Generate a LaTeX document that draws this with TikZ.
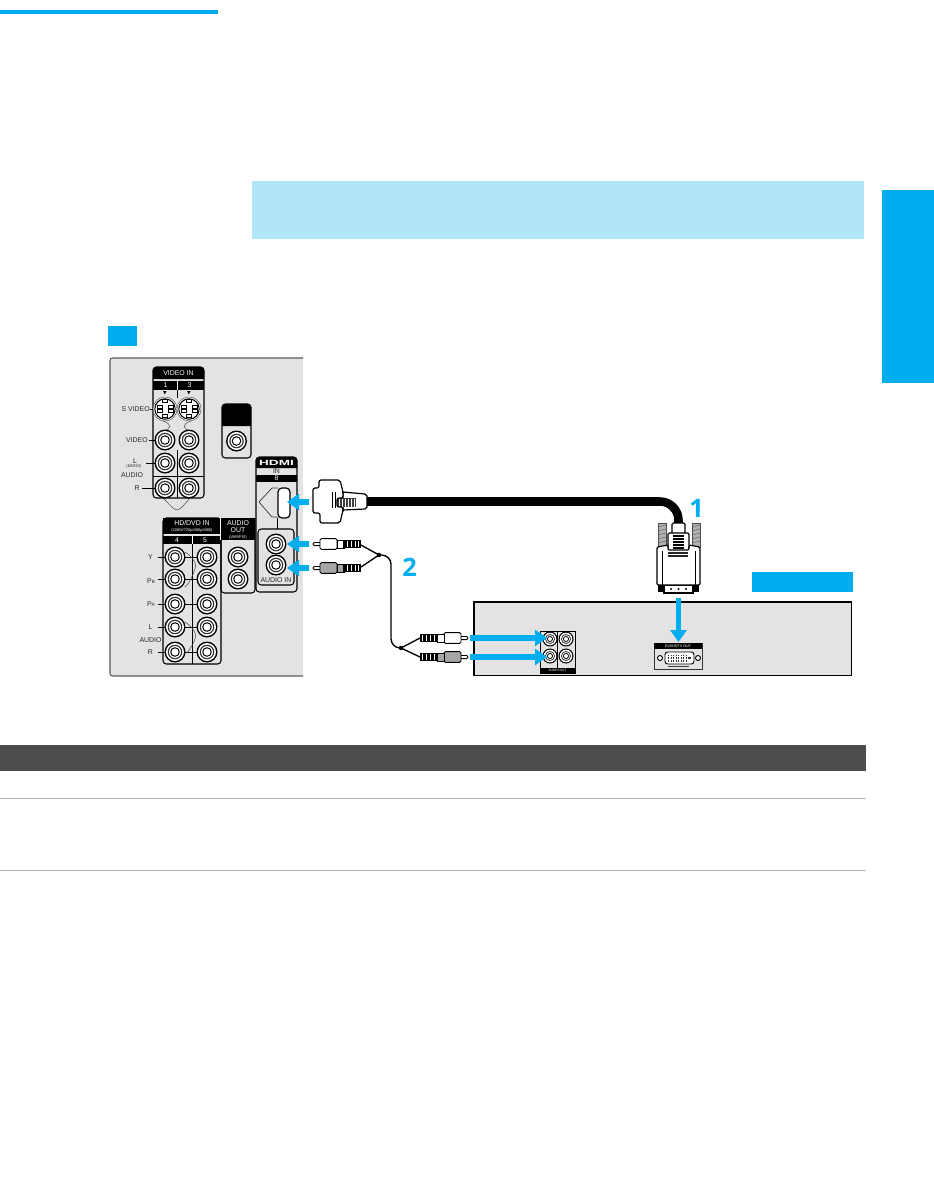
\documentclass[tikz,border=0pt]{standalone}
\usepackage{fontspec}
\usepackage{graphicx}
\setmainfont{Liberation Sans}
\newfontfamily\numfont{Open Sans}
\newfontfamily\symfont{DejaVu Sans}
\usetikzlibrary{arrows.meta}
\definecolor{cyanb}{HTML}{00AEEF}
\definecolor{paleb}{HTML}{B3E5FA}
\definecolor{panelg}{HTML}{E3E3E3}
\definecolor{bandg}{HTML}{4D4D4D}
\definecolor{ruleg}{HTML}{B3B3B3}
\tikzset{
  px/.style={x=0.75pt,y=-0.75pt},
  boxline/.style={draw=black,line width=0.8pt,rounded corners=2.5pt},
  thin wire/.style={draw=black!75,line width=0.35pt},
  rca wire/.style={draw=black,line width=1pt},
  blue arrow/.style={draw=cyanb,line width=3.8pt,-{Triangle[length=9pt,width=12pt]}},
  lab/.style={inner sep=0pt,font=\fontsize{5.2}{5.7}\selectfont,text=black!85,align=center},
  whitelab/.style={inner sep=0pt,font=\fontsize{5.2}{5.7}\selectfont,text=white,align=center},
  bignum/.style={inner sep=0pt,text=cyanb,font=\numfont\fontsize{19}{19}\selectfont\bfseries}
}
\newcommand{\jk}[2]{%
  \fill[black] (#1,#2) circle[radius=10.5];
  \fill[white] (#1,#2) circle[radius=9];
  \fill[black!80] (#1,#2) circle[radius=7.3];
  \fill[white] (#1,#2) circle[radius=6];
  \fill[black] (#1,#2) circle[radius=4.8];
  \fill[white] (#1,#2) circle[radius=3.6];
}
\newcommand{\jks}[2]{%
  \fill[black] (#1,#2) circle[radius=7.5];
  \fill[white] (#1,#2) circle[radius=6.3];
  \fill[black!80] (#1,#2) circle[radius=5];
  \fill[white] (#1,#2) circle[radius=4];
  \fill[black] (#1,#2) circle[radius=3];
  \fill[white] (#1,#2) circle[radius=2];
}
\newcommand{\svid}[2]{%
  \begin{scope}[shift={(#1,#2)}]
    \draw[black!70,line width=0.35pt,fill=white] (0,0) circle[radius=12];
    \draw[black,line width=0.8pt] (0,0) circle[radius=10.2];
    \foreach \a/\b in {-3/-9.2,-3/5.6,-8/-3.6,3/-3.6,-8/0.8,3/0.8}{
      \draw[black,line width=0.55pt,fill=white] (\a,\b) rectangle ++(5,2.8);
    }
  \end{scope}
}
\newcommand{\rcaplug}[4]{%
  \begin{scope}[shift={(#1,#2)},xscale=#3]
    \draw[black,line width=0.6pt,fill=white,rounded corners=1pt] (0,-1.6) rectangle (8,1.6);
    \draw[black,line width=0.7pt,fill=#4,rounded corners=1pt] (7,-5.3) rectangle (24,5.3);
    \draw[black,line width=0.7pt,fill=#4] (24,-4) rectangle (31,4);
    \fill[black] (30,-3.6) rectangle (48,3.6);
    \foreach \r in {33.5,37.5,41.5,45}{\fill[white] (\r,-3) rectangle ++(1,6);}
  \end{scope}
}
\begin{document}
\begin{tikzpicture}[px]
\useasboundingbox (0,0) rectangle (934,1179);
\fill[white] (0,0) rectangle (934,1179);
% page furniture
\fill[cyanb] (0,10) rectangle (218,14);
\fill[cyanb] (882,190) rectangle (934,383);
\fill[paleb] (252,181) rectangle (864,239);
\fill[cyanb] (108,326) rectangle (137,346);
\fill[cyanb] (752,572) rectangle (853,592);
\fill[bandg] (0,745) rectangle (866,771);
\draw[ruleg,line width=0.7pt] (0,798) -- (866,798);
\draw[ruleg,line width=0.7pt] (0,870) -- (866,870);
% TV panel
\fill[panelg] (110,358) rectangle (303,676);
\draw[black!65,line width=0.8pt,rounded corners=2pt] (303,358) -- (110,358) -- (110,676) -- (303,676);
% VIDEO IN box
\draw[boxline] (153,367) rectangle (204,498);
\fill[black] (153,379) {[rounded corners=2.5pt] -- (153,367) -- (204,367)} -- (204,379) -- cycle;
\fill[black] (153,381) rectangle (204,390);
\draw[white,line width=0.6pt] (177.5,381) -- (177.5,390);
\draw[black,line width=0.6pt] (177.5,390) -- (177.5,398);
\draw[black,line width=0.6pt] (177.5,450) -- (177.5,498);
\draw[black,line width=0.6pt] (153,476) -- (204,476);
\node[whitelab] (videoin) at (178.5,373) {VIDEO IN};
\node[whitelab] (vone) at (165.5,385.5) {1};
\node[whitelab] (vthree) at (189.5,385.5) {3};
\node[inner sep=0pt,font=\symfont\fontsize{3.5}{4}\selectfont] (arrone) at (165,393) {▼};
\node[inner sep=0pt,font=\symfont\fontsize{3.5}{4}\selectfont] (arrthree) at (189,393) {▼};
\draw[thin wire] (163,421) .. controls (172,424) and (172,429) .. (163,431);
\draw[thin wire] (191,421) .. controls (182,424) and (182,429) .. (191,431);
\svid{165}{409}\svid{189}{409}
\jk{165}{440}\jk{189}{440}
\jk{165}{463}\jk{189}{463}
\jk{165}{488}\jk{189}{488}
\draw[black,line width=0.6pt] (149,440) -- (155,440);
\draw[black,line width=0.6pt] (146,463) -- (155,463);
\draw[black,line width=0.6pt] (142,488) -- (155,488);
\draw[black,line width=0.6pt] (150,409) -- (153,409);
\node[lab,anchor=east] (svideo) at (150,409) {S VIDEO};
\node[lab,anchor=east] (videol) at (148,440) {VIDEO};
\node[lab] (monol) at (135,461) {L};
\node[lab,font=\fontsize{3}{3}\selectfont] (monom) at (134,466) {(MONO)};
\node[lab] (audiol) at (132,475) {AUDIO};
\node[lab,anchor=east] (rl) at (140,488) {R};
\draw[thin wire] (163,498) .. controls (170,505) and (174,510) .. (177,510) .. controls (180,510) and (184,505) .. (190,498);
% small box
\draw[boxline,fill=panelg] (222,404) rectangle (251,458);
\fill[black] (222,426) {[rounded corners=2.5pt] -- (222,404) -- (251,404)} -- (251,426) -- cycle;
\jk{236.5}{441}
% HD/DVD box
\draw[boxline] (163,518) rectangle (221,664);
\draw[boxline] (221,518) -- (221,593) -- (255,593) -- (255,518);
\fill[black] (163,534) -- (163,518) -- (255,518) -- (255,534) -- cycle;
\fill[black] (221,518) rectangle (255,540);
\fill[black] (163,536) rectangle (221,544);
\draw[white,line width=0.6pt] (192,536) -- (192,544);
\draw[white,line width=0.6pt] (220.5,518) -- (220.5,540);
\draw[black,line width=0.7pt] (192,544) -- (192,664);
\node[whitelab] (hddvd) at (192,523.5) {HD/DVD IN};
\node[whitelab,font=\fontsize{3}{3}\selectfont] (hdres) at (192,530) {(1080i/720p/480p/480i)};
\node[whitelab] (hdfour) at (177,540) {4};
\node[whitelab] (hdfive) at (205,540) {5};
\node[whitelab] (aout) at (238,526.5) {AUDIO\\[-0.5pt]OUT};
\node[whitelab,font=\fontsize{3}{3}\selectfont] (avar) at (238,537) {(VAR/FIX)};
\foreach \yy in {557,579,604,627,652}{
  \draw[black,line width=0.6pt] (158,\yy) -- (166,\yy);
  \draw[black,line width=0.6pt] (185,\yy) -- (198,\yy);
  \jk{175}{\yy}\jk{207}{\yy}
}
\draw[thin wire] (185,552) .. controls (192,556) and (198,565) .. (195,569) .. controls (193,575) and (189,584) .. (185,587);
\draw[thin wire] (185,622) .. controls (192,626) and (198,635) .. (195,639) .. controls (193,645) and (189,650) .. (187,653);
\jk{238}{557}\jk{238}{579}
\node[lab] (yl) at (150.5,557) {Y};
\node[lab] (pbl) at (151,581) {P\raisebox{-.2ex}{\fontsize{3.4}{3.4}\selectfont B}};
\node[lab] (prl) at (151,604) {P\raisebox{-.2ex}{\fontsize{3.4}{3.4}\selectfont R}};
\node[lab] (ll) at (150.5,627) {L};
\node[lab] (audio2) at (150.5,640) {AUDIO};
\node[lab] (r2) at (150.5,652) {R};
% HDMI box
\draw[boxline] (256,457) rectangle (297,592);
\fill[black] (256,468) {[rounded corners=2.5pt] -- (256,457) -- (297,457)} -- (297,468) -- cycle;
\fill[black] (256,474.5) rectangle (297,482);
\node[inner sep=0pt,text=white,font=\fontsize{7}{8}\selectfont\bfseries] (hdmilogo) at (276.5,462.5) {\scalebox{1.45}[0.8]{HDMI}};
\node[lab] (hdmiin) at (276.5,471) {IN};
\node[whitelab] (hdmi8) at (276.5,478.5) {8};
\draw[black!80,line width=0.5pt] (278,488) -- (272,488) -- (259,502) -- (272,517) -- (278,517);
\draw[black,line width=0.9pt,fill=white,rounded corners=3pt] (278,488) rectangle (290,518);
\draw[black,line width=0.6pt] (277,518) -- (277,529);
\draw[boxline] (258,529) rectangle (294,585);
\jk{276}{544}\jk{276}{565}
\node[lab] (audioin) at (276,580.5) {AUDIO IN};
% HDMI plug
\draw[black,line width=0.9pt,fill=white] (343,492) -- (365,494) -- (367,496) -- (367,507) -- (365,509) -- (343,510) -- cycle;
\fill[black!75] (337,498) rectangle (356,507);
\foreach \r in {339,342,345,348,351,354}{\fill[white] (\r,498.5) rectangle ++(1,8);}
\draw[black,line width=0.9pt,fill=white,rounded corners=1.5pt] (313,488) -- (319,488) -- (319,480) -- (340,480) -- (343,492) -- (343,498) -- (337,498) -- (337,507) -- (343,507) -- (343,510) -- (340,523) -- (320,523) -- (320,513) -- (313,513) -- cycle;
\fill[black] (332,492) rectangle (333,508);
\fill[black] (334.5,492) rectangle (335.5,508);
% cable 1
\draw[black,line width=6.4pt,rounded corners=14pt] (367,501.5) -- (678.5,501.5) -- (678.5,524);
% DVI plug
\foreach \sx in {658,692}{
  \draw[black!70,line width=0.4pt,fill=black!30] (\sx,523) rectangle ++(8,24);
  \foreach \d in {527,531,535,539,543}{\draw[black!60,line width=0.4pt] (\sx,\d) -- ++(8,-2);}
}
\draw[black,line width=0.9pt,fill=white,rounded corners=1pt] (672,523) rectangle (685,534);
\draw[black,line width=0.9pt,fill=white,rounded corners=1pt] (668,533) rectangle (689,551);
\foreach \d in {536,539,542,545,548}{\draw[black,line width=0.9pt] (673,\d) -- (684,\d);}
\draw[black,line width=0.9pt,fill=white] (664,585) rectangle (693,593);
\foreach \dx in {671,678.5,686}{\fill[black] (\dx,589) circle[radius=1.2];}
\draw[black,line width=0.9pt,fill=white,rounded corners=1pt] (657,547) -- (668,545) -- (668,550) -- (689,550) -- (689,545) -- (700,547) -- (700,585) -- (657,585) -- cycle;
\draw[black,line width=0.6pt] (662,551) -- (662,585);
\draw[black,line width=0.6pt] (695,551) -- (695,585);
\fill[black!85] (668,552) rectangle (688,553.5);
\fill[black!85] (668,555) rectangle (688,556.5);
\fill[black] (658,585) rectangle (664,592);
\fill[black] (693,585) rectangle (699,592);
% RCA plugs and cables
\coordinate (topj) at (379,555);
\coordinate (botj) at (401,648);
\coordinate (ptw) at (361,545);
\coordinate (ptg) at (361,567);
\coordinate (pbw) at (420,638);
\coordinate (pbg) at (420,657);
\draw[rca wire] (ptw) -- (topj) -- (ptg);
\draw[rca wire] (pbw) -- (botj) -- (pbg);
\draw[rca wire,rounded corners=7pt] (topj) -- (391,555) -- (391,648) -- (botj);
\fill[black] (topj) circle[radius=2.2];
\fill[black] (botj) circle[radius=2.2];
\rcaplug{313}{544}{1}{white}
\rcaplug{313}{568}{1}{black!35}
\rcaplug{468}{638}{-1}{white}
\rcaplug{468}{657}{-1}{black!35}
\node[bignum] (numone) at (696.5,508) {1};
\node[bignum] (numtwo) at (409.5,567.5) {2};
% DVD player
\draw[black,line width=0.8pt,fill=panelg] (474,602) rectangle (851.5,675.5);
% audio out block
\draw[black,line width=0.7pt,fill=panelg] (540,631) rectangle (575,673);
\draw[black,line width=0.6pt] (557,631) -- (557,668);
\fill[black] (540,668) rectangle (575,673);
\jks{550}{639}\jks{550}{656}\jks{566}{639}\jks{566}{656}
\node[whitelab,font=\fontsize{2.4}{2.4}\selectfont] (dvdaudio) at (557.5,670.5) {AUDIO OUT};
% DVI out block
\draw[black!80,line width=0.6pt,fill=panelg] (654,643) rectangle (702,669);
\fill[black] (654,643) rectangle (702,648.5);
\node[whitelab,font=\fontsize{2.8}{2.8}\selectfont] (dvilabel) at (678,645.8) {DVI/HDTV OUT};
\draw[black,line width=0.7pt,fill=white,rounded corners=2pt] (665,652) rectangle (694,664);
\foreach \dx in {668,670.5,673,675.5,678,680.5,683,685.5}{
  \fill[black!80] (\dx,654.5) rectangle ++(1.3,1.5);
  \fill[black!80] (\dx,657.3) rectangle ++(1.3,1.5);
  \fill[black!80] (\dx,660) rectangle ++(1.3,1.5);
}
\fill[black!80] (688,657.3) rectangle (691,658.5);
\draw[black,line width=0.7pt,fill=white] (660,658) circle[radius=2.5];
\draw[black,line width=0.7pt,fill=white] (698,658) circle[radius=2.5];
\fill[black!75] (668,665.5) rectangle (689,667);
% blue arrows
\coordinate (ah1) at (309,502); \coordinate (ah2) at (287,502);
\coordinate (aa1) at (309,544); \coordinate (aa2) at (287,544);
\coordinate (ab1) at (309,568); \coordinate (ab2) at (287,568);
\coordinate (ad1) at (470,638); \coordinate (ad2) at (547,638);
\coordinate (ae1) at (470,657); \coordinate (ae2) at (547,657);
\coordinate (af1) at (678.5,598); \coordinate (af2) at (678.5,642);
\draw[blue arrow] (ah1) -- (ah2);
\draw[blue arrow] (aa1) -- (aa2);
\draw[blue arrow] (ab1) -- (ab2);
\draw[blue arrow] (ad1) -- (ad2);
\draw[blue arrow] (ae1) -- (ae2);
\draw[blue arrow] (af1) -- (af2);
\end{tikzpicture}
\end{document}
